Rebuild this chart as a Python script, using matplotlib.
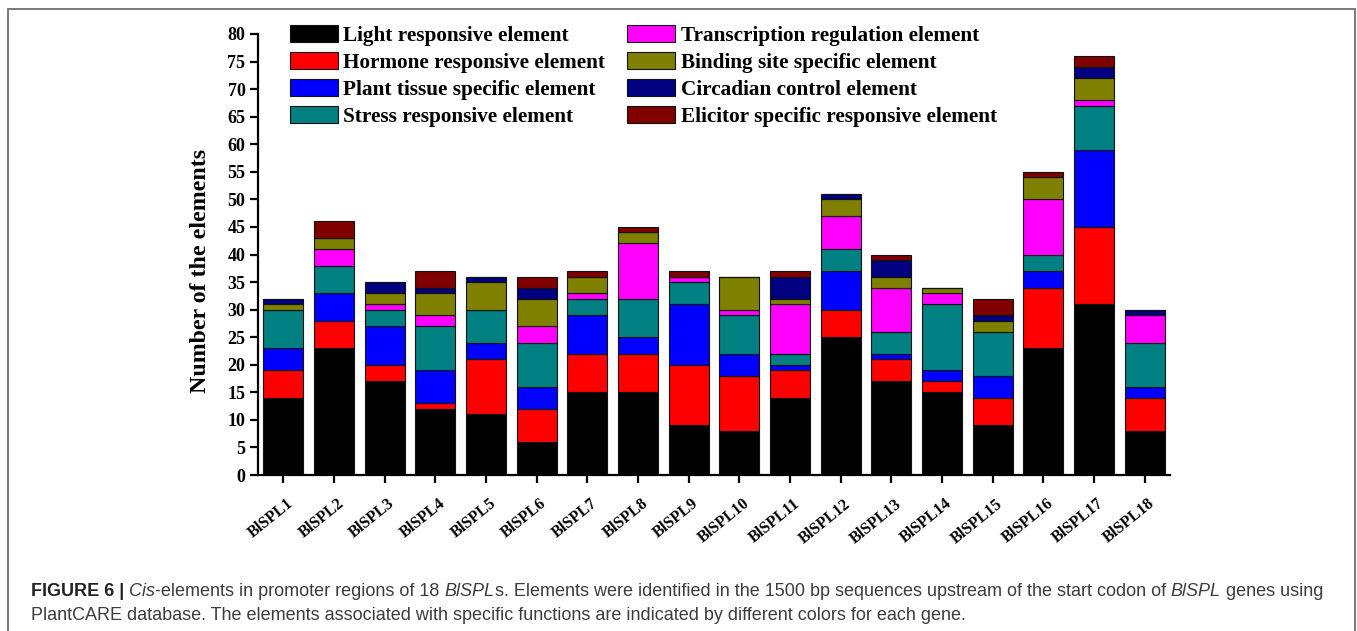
import matplotlib
matplotlib.use("Agg")
import matplotlib.pyplot as plt
from matplotlib.patches import Rectangle
from matplotlib.transforms import ScaledTranslation
import numpy as np

# ---- data -------------------------------------------------------------
genes = ["BlSPL%d" % i for i in range(1, 19)]

element_names = [
    "Light responsive element",
    "Hormone responsive element",
    "Plant tissue specific element",
    "Stress responsive element",
    "Transcription regulation element",
    "Binding site specific element",
    "Circadian control element",
    "Elicitor specific responsive element",
]

light         = [14, 23, 17, 12, 11, 6, 15, 15, 9, 8, 14, 25, 17, 15, 9, 23, 31, 8]
hormone       = [5, 5, 3, 1, 10, 6, 7, 7, 11, 10, 5, 5, 4, 2, 5, 11, 14, 6]
plant_tissue  = [4, 5, 7, 6, 3, 4, 7, 3, 11, 4, 1, 7, 1, 2, 4, 3, 14, 2]
stress        = [7, 5, 3, 8, 6, 8, 3, 7, 4, 7, 2, 4, 4, 12, 8, 3, 8, 8]
transcription = [0, 3, 1, 2, 0, 3, 1, 10, 1, 1, 9, 6, 8, 2, 0, 10, 1, 5]
binding_site  = [1, 2, 2, 4, 5, 5, 3, 2, 0, 6, 1, 3, 2, 1, 2, 4, 4, 0]
circadian     = [1, 0, 2, 1, 1, 2, 0, 0, 0, 0, 4, 1, 3, 0, 1, 0, 2, 1]
elicitor      = [0, 3, 0, 3, 0, 2, 1, 1, 1, 0, 1, 0, 1, 0, 3, 1, 2, 0]

series = [light, hormone, plant_tissue, stress,
          transcription, binding_site, circadian, elicitor]
colors = ["#000000", "#FF0000", "#0000FF", "#008080",
          "#FF00FF", "#808000", "#000080", "#800000"]

# ---- figure -------------------------------------------------------------
W, H, DPI = 1357, 631, 100
fig = plt.figure(figsize=(W / DPI, H / DPI), dpi=DPI)
serif = "Liberation Serif"

ax = fig.add_axes([258 / W, 1 - 475 / H, (1170 - 258) / W, (475 - 34) / H])

x = np.arange(len(genes))
bottom = np.zeros(len(genes))
handles = []
for vals, col, name in zip(series, colors, element_names):
    v = np.array(vals, dtype=float)
    b = ax.bar(x, v, width=0.79, bottom=bottom, color=col,
               edgecolor="#111111", linewidth=0.8, label=name)
    handles.append(b)
    bottom += v

ax.set_xlim(-0.5, 17.5)
ax.set_ylim(0, 80)
ax.set_yticks(np.arange(0, 81, 5))
ax.set_xticks(x)
ax.set_xticklabels([])

# gene names under each tick, slanted and nudged right of the tick
label_tr = ax.get_xaxis_transform() + ScaledTranslation(
    8 / DPI, -27 / DPI, fig.dpi_scale_trans)
for xi, name in zip(x, genes):
    ax.text(xi, 0, name, transform=label_tr, rotation=39,
            rotation_mode="anchor", ha="right", va="center",
            family=serif, weight="bold", size=11.6, clip_on=False)

for lab in ax.get_yticklabels():
    lab.set_fontfamily(serif)
    lab.set_fontweight("bold")
    lab.set_fontsize(13)

for side in ("top", "right"):
    ax.spines[side].set_visible(False)
for side in ("left", "bottom"):
    ax.spines[side].set_linewidth(1.6)
ax.tick_params(axis="both", direction="out", length=6, width=1.6, pad=3)

ax.set_ylabel("Number of the elements", family=serif, weight="bold",
              size=17.2)
ax.yaxis.set_label_coords(-0.052, 0.463)

leg = ax.legend(handles=handles, loc="upper left",
                bbox_to_anchor=(290 / W, 1 - 25 / H),
                bbox_transform=fig.transFigure, ncol=2, frameon=False,
                borderpad=0, borderaxespad=0, handlelength=2.25,
                handleheight=0.85, handletextpad=0.25, columnspacing=1.05,
                labelspacing=0.29,
                prop=dict(family=serif, weight="bold", size=15.3))

# ---- caption ------------------------------------------------------------
sans = "Liberation Sans"
cap_size = 12.95
cap_color = "#3c3c3c"
renderer = fig.canvas.get_renderer()


def seg_width(txt, **kw):
    probe = fig.text(0, 0, txt + "x", fontsize=cap_size, family=sans, **kw)
    ref = fig.text(0, 0, "x", fontsize=cap_size, family=sans, **kw)
    w = (probe.get_window_extent(renderer).width
         - ref.get_window_extent(renderer).width)
    probe.remove()
    ref.remove()
    return w


def draw_line(segments, x0, y0):
    xp = x0
    for txt, kw in segments:
        fig.text(xp / W, y0, txt, fontsize=cap_size, family=sans,
                 va="center", ha="left", **kw)
        xp += seg_width(txt, **kw)


bold = dict(weight="bold", color="#222222")
ital = dict(style="italic", color=cap_color)
norm = dict(color=cap_color)

line1 = [("FIGURE 6 | ", bold), ("Cis", ital),
         ("-elements in promoter regions of 18 ", norm), ("BlSPL", ital),
         ("s. Elements were identified in the 1500 bp sequences upstream of "
          "the start codon of ", norm), ("BlSPL", ital),
         (" genes using", norm)]
line2 = [("PlantCARE database. The elements associated with specific "
          "functions are indicated by different colors for each gene.", norm)]
draw_line(line1, 31, 1 - 591 / H)
draw_line(line2, 31, 1 - 615 / H)

# ---- outer frame ----------------------------------------------------------
fig.add_artist(Rectangle((8 / W, -0.05), (1355 - 8) / W, 1.05 - 9 / H,
                         transform=fig.transFigure, fill=False,
                         edgecolor="#707070", linewidth=1.3, clip_on=False))

fig.savefig("out.png", dpi=DPI)
